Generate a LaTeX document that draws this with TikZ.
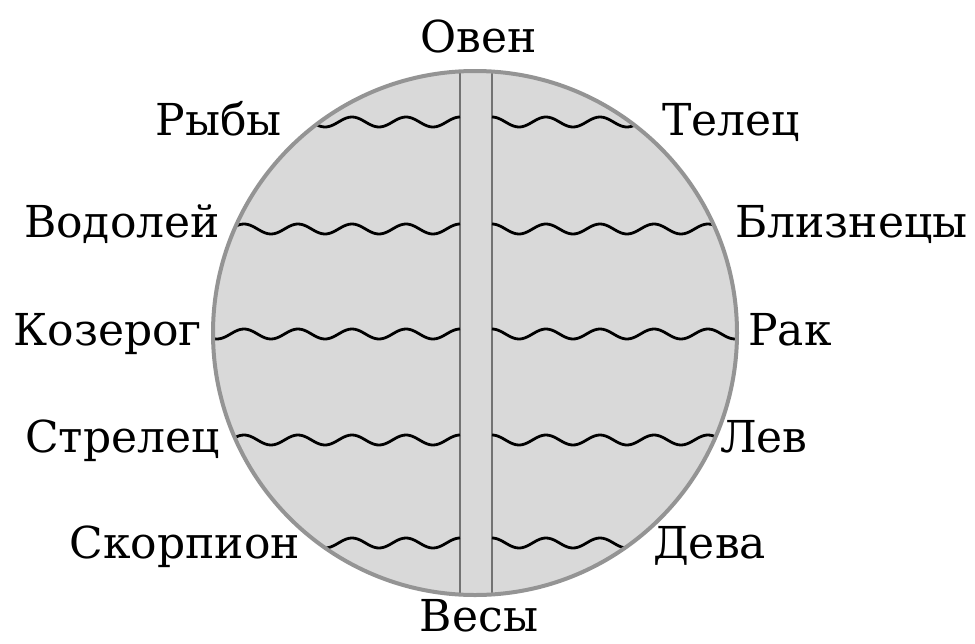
\documentclass[tikz,border=0pt]{standalone}
\usepackage{fontspec}
\setmainfont{DejaVu Serif}
\usetikzlibrary{calc}

\begin{document}
\begin{tikzpicture}[x=1pt,y=-1pt,
    sign/.style={font=\fontsize{44}{48}\selectfont,inner sep=0pt}]
  \useasboundingbox (0,0) rectangle (975,643);
  % disc
  \fill[black!15] (475,333) circle[radius=262pt];
  \begin{scope}
    \clip (475,333) circle[radius=262pt];
    % middle strip
    \draw[black!55,line width=1.3pt] (460,0) -- (460,643) (492,0) -- (492,643);
    % waves left and right of the strip
    \foreach \r in {122,229,334,440,543} {
      \draw[line width=2.8pt] plot[domain=200:460,samples=120,smooth] (\x,{\r-5*cos((\x-460)/54*360)});
      \draw[line width=2.8pt] plot[domain=492:752,samples=120,smooth] (\x,{\r-5*cos((\x-492)/54*360)});
    }
  \end{scope}
  \draw[black!42,line width=4pt] (475,333) circle[radius=262pt];
  % signs, top and bottom
  \node[sign,anchor=base] (oven) at (479,52) {Овен};
  \node[sign,anchor=base] (vesy) at (479,631) {Весы};
  % signs, left
  \node[sign,anchor=base east] (ryby) at (282,135) {Рыбы};
  \node[sign,anchor=base east] (vodolej) at (220,237) {Водолей};
  \node[sign,anchor=base east] (kozerog) at (202,345) {Козерог};
  \node[sign,anchor=base east] (strelec) at (220,452) {Стрелец};
  \node[sign,anchor=base east] (skorpion) at (300,558) {Скорпион};
  % signs, right
  \node[sign,anchor=base west] (telec) at (662,135) {Телец};
  \node[sign,anchor=base west] (bliznecy) at (735,237) {Близнецы};
  \node[sign,anchor=base west] (rak) at (748,345) {Рак};
  \node[sign,anchor=base west] (lev) at (720,452) {Лев};
  \node[sign,anchor=base west] (deva) at (653,558) {Дева};
\end{tikzpicture}
\end{document}
